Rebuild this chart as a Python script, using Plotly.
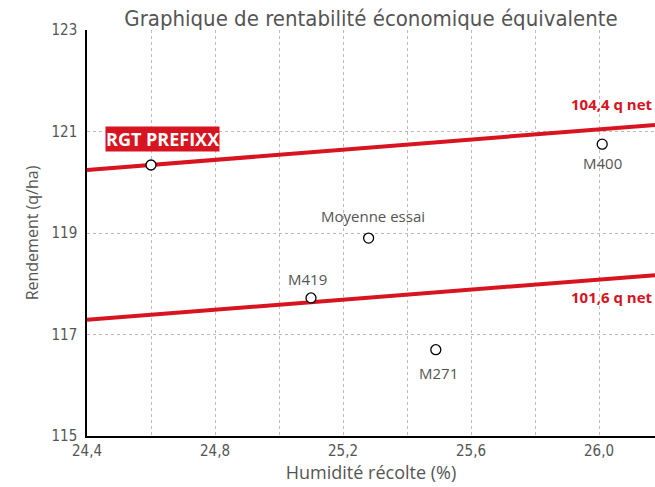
import plotly.graph_objects as go

names = ["RGT PREFIXX", "M400", "Moyenne essai", "M419", "M271"]
humidite = [24.6, 26.01, 25.28, 25.1, 25.49]
rendement = [120.34, 120.75, 118.90, 117.72, 116.70]
label_dy = [0, -19, 22, 19, -23]
label_dx = [0, 0, 4, -4, 3]

line_x = [24.4, 26.175]
line_haut = [120.24, 121.13]
line_bas = [117.29, 118.17]
line_labels = ["104,4 q net", "101,6 q net"]

x_ticks = [24.4, 24.8, 25.2, 25.6, 26.0]
x_ticklabels = ["24,4", "24,8", "25,2", "25,6", "26,0"]
y_ticks = [115, 117, 119, 121, 123]

RED = "#d7141f"
GRAY = "#555555"
COND = "DejaVu Sans Condensed, Roboto, sans-serif"
REG = "Open Sans, sans-serif"

fig = go.Figure()
for ys in (line_haut, line_bas):
    fig.add_trace(go.Scatter(x=line_x, y=ys, mode="lines",
                             line=dict(color=RED, width=4), hoverinfo="skip"))

fig.add_trace(go.Scatter(
    x=humidite, y=rendement, mode="markers",
    marker=dict(size=10, color="white", line=dict(color="black", width=1.3)),
))

for i in range(1, len(names)):
    fig.add_annotation(x=humidite[i], y=rendement[i], text=names[i], showarrow=False,
                       xshift=label_dx[i], yshift=label_dy[i],
                       font=dict(family=REG, size=15, color=GRAY))

fig.add_annotation(x=humidite[0], y=120.85, text="<b>RGT PREFIXX</b>", showarrow=False,
                   xshift=11, font=dict(family=REG, size=18, color="white"),
                   bgcolor=RED, borderpad=0, xanchor="center", yanchor="middle")
fig.add_annotation(x=line_x[1], y=121.54, text="<b>" + line_labels[0] + "</b>",
                   showarrow=False, xanchor="right", yanchor="middle",
                   font=dict(family=REG, size=15, color=RED))
fig.add_annotation(x=line_x[1], y=117.74, text="<b>" + line_labels[1] + "</b>",
                   showarrow=False, xanchor="right", yanchor="middle",
                   font=dict(family=REG, size=15, color=RED))

fig.update_layout(
    width=655, height=487,
    margin=dict(l=87, r=0, t=30, b=51, autoexpand=False),
    plot_bgcolor="white", paper_bgcolor="white",
    showlegend=False,
    title=dict(text="Graphique de rentabilité économique équivalente",
               x=371 / 655, xanchor="center", y=1 - 18 / 487, yanchor="middle",
               font=dict(family=COND, size=22, color=GRAY)),
)
fig.update_xaxes(range=[24.4, 26.175], tickvals=x_ticks, ticktext=x_ticklabels,
                 showline=True, linecolor="black", linewidth=1.5, automargin=False,
                 showgrid=False, zeroline=False, ticks="",
                 tickfont=dict(family=COND, size=15, color=GRAY),
                 title=dict(text="Humidité récolte (%)",
                            font=dict(family=REG, size=18, color=GRAY), standoff=3),
                 minor=dict(dtick=0.2, tick0=24.4, showgrid=True, gridcolor="#bbbbbb",
                            griddash="dot", gridwidth=1))
fig.update_yaxes(range=[115, 123], tickvals=y_ticks,
                 showline=True, linecolor="black", linewidth=1.5, automargin=False,
                 showgrid=True, gridcolor="#bbbbbb", griddash="dot", gridwidth=1,
                 zeroline=False, ticks="", ticklabelstandoff=5,
                 tickfont=dict(family=COND, size=15, color=GRAY),
                 title=dict(text="Rendement (q/ha)",
                            font=dict(family=REG, size=16, color=GRAY), standoff=9))
fig.write_html("out.html", config={"displayModeBar": False},
               post_script="document.body.style.margin='0';document.body.style.overflow='hidden';")
